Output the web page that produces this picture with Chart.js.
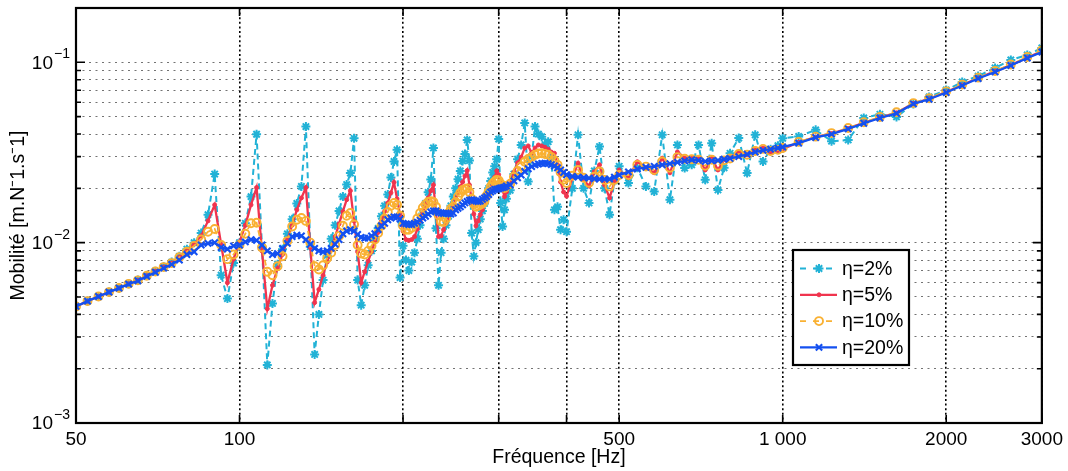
<!DOCTYPE html>
<html>
<head>
<meta charset="utf-8">
<title>Mobilité</title>
<script src="https://cdn.jsdelivr.net/npm/chart.js@4.4.1/dist/chart.umd.min.js"></script>
<style>
  html, body { margin: 0; padding: 0; background: #fff; }
  #wrap { width: 1068px; height: 471px; }
</style>
</head>
<body>
<div id="wrap"><canvas id="mobChart" width="1068" height="471"></canvas></div>
<script>
// frequency points (Hz)
const freqHz = [
  50, 52.5, 55, 57.5, 60, 62.5, 65, 67.5, 70, 72.5, 75,
  77.5, 80, 82.5, 85, 87.5, 90, 92.5, 95, 97.5, 100,
  102.5, 105, 107.5, 110, 112.5, 115, 117.5, 120, 122.5, 125,
  127.5, 130, 132.5, 135, 137.5, 140, 142.5, 145,
  147.5, 150, 152.5, 155, 157.5, 160, 162.5, 165, 167.5, 170, 172.5, 175, 177.5, 180, 182.5, 185, 187.5, 190, 192.5, 195, 197.5, 200,
  202.5, 205, 207.5, 210, 212.5, 215, 217.5, 220, 222.5, 225, 227.5, 230, 232.5, 235, 237.5, 240,
  242.5, 245, 247.5, 250, 252.5, 255, 257.5, 260, 262.5, 265, 267.5, 270, 272.5, 275, 277.5, 280, 282.5, 285, 287.5, 290, 292.5, 295, 297.5, 300, 302.5, 305, 307.5, 310,
  315, 320, 325, 330, 335, 340, 345, 350, 355, 360, 365, 370, 375, 380, 385, 390, 395, 400,
  410, 420, 430, 440, 450, 460, 470, 480, 490, 500,
  520, 540, 560, 580, 600, 620, 640, 660, 680, 700, 720, 740, 760, 780, 800,
  830, 860, 890, 920, 950, 980, 1000,
  1070, 1150, 1230, 1320, 1410, 1510, 1620, 1740, 1860, 2000, 2140, 2290, 2460, 2630, 2820, 3000
];

// mobility, eta = 2%
const eta2 = [
  0.00443, 0.00474, 0.00503, 0.00532, 0.00560, 0.00591, 0.00620, 0.00657, 0.00695, 0.00736, 0.00780,
  0.0084, 0.0092, 0.0100, 0.0113, 0.0143, 0.0240, 0.0066, 0.0049, 0.0077, 0.0100,
  0.0128, 0.0180, 0.0399, 0.0095, 0.0021, 0.0046, 0.0076, 0.0092, 0.0112, 0.0135,
  0.0165, 0.0205, 0.0440, 0.0095, 0.0024, 0.0040, 0.0062, 0.0085,
  0.0105, 0.0125, 0.0150, 0.0180, 0.0210, 0.0243, 0.0379, 0.0062, 0.0045, 0.0058, 0.0075, 0.0090, 0.0105, 0.0120, 0.0140, 0.0160, 0.0185, 0.0230, 0.0282, 0.0327, 0.0064, 0.0096,
  0.0080, 0.0070, 0.0078, 0.0088, 0.0105, 0.0125, 0.0145, 0.0165, 0.0190, 0.0224, 0.0335, 0.0120, 0.0058, 0.0088, 0.0105, 0.0125,
  0.0140, 0.0160, 0.0180, 0.0200, 0.0225, 0.0250, 0.0284, 0.0310, 0.0371, 0.0285, 0.0113, 0.0084, 0.0100, 0.0118, 0.0135, 0.0150, 0.0165, 0.0182, 0.0200, 0.0220, 0.0245, 0.0265, 0.0290, 0.0375, 0.0166, 0.0123, 0.0152, 0.0175,
  0.0195, 0.0240, 0.0290, 0.0348, 0.0461, 0.0218, 0.0300, 0.0440, 0.0400, 0.0387, 0.0350, 0.0363, 0.0300, 0.0152, 0.0158, 0.0118, 0.0134, 0.0115,
  0.0200, 0.0396, 0.0200, 0.0166, 0.0250, 0.0341, 0.0200, 0.0143, 0.0220, 0.0265,
  0.0214, 0.0260, 0.0205, 0.0192, 0.0396, 0.0173, 0.0348, 0.0259, 0.0270, 0.0348, 0.0223, 0.0356, 0.0196, 0.0260, 0.0313,
  0.0380, 0.0243, 0.0396, 0.0282, 0.0330, 0.0345, 0.0379,
  0.0388, 0.0422, 0.0365, 0.0371, 0.0491, 0.0515, 0.0498, 0.0588, 0.0643, 0.0702, 0.0778, 0.0839, 0.0930, 0.1030, 0.1098, 0.1200
];

// eta = 5%
const eta5 = [
  0.00443, 0.00474, 0.00503, 0.00532, 0.00560, 0.00591, 0.00618, 0.00655, 0.00692, 0.00732, 0.00770,
  0.0083, 0.0090, 0.0098, 0.0109, 0.0132, 0.0162, 0.0098, 0.0060, 0.0081, 0.0101,
  0.0125, 0.0162, 0.0202, 0.0090, 0.0043, 0.0058, 0.0072, 0.0086, 0.0104, 0.0125,
  0.0152, 0.0177, 0.0202, 0.0094, 0.00465, 0.0055, 0.0066, 0.0078,
  0.0091, 0.0108, 0.0127, 0.0149, 0.0173, 0.0194, 0.0132, 0.0089, 0.0060, 0.0069, 0.0079, 0.0089, 0.0101, 0.0114, 0.0131, 0.0149, 0.0166, 0.0189, 0.0216, 0.0175, 0.0143, 0.0116,
  0.0104, 0.0103, 0.0104, 0.0108, 0.0119, 0.0133, 0.0146, 0.0162, 0.0177, 0.0194, 0.0209, 0.0146, 0.0108, 0.0109, 0.0118, 0.0128,
  0.0138, 0.0150, 0.0162, 0.0175, 0.0189, 0.0204, 0.0217, 0.0234, 0.0251, 0.0209, 0.0173, 0.0144, 0.0124, 0.0132, 0.0143, 0.0152, 0.0164, 0.0175, 0.0187, 0.0201, 0.0217, 0.0231, 0.0250, 0.0238, 0.0214, 0.0196, 0.0180, 0.0191,
  0.0212, 0.0246, 0.0277, 0.0298, 0.0335, 0.0344, 0.0315, 0.0335, 0.0348, 0.0344, 0.0338, 0.0330, 0.0318, 0.0313, 0.0270, 0.0217, 0.0191, 0.0181,
  0.0228, 0.0276, 0.0223, 0.0206, 0.0247, 0.0270, 0.0209, 0.0177, 0.0217, 0.0253,
  0.0229, 0.0281, 0.0260, 0.0244, 0.0294, 0.0244, 0.0318, 0.0295, 0.0295, 0.0295, 0.0253, 0.0295, 0.0253, 0.0288, 0.0295,
  0.0318, 0.0307, 0.0327, 0.0335, 0.0315, 0.0322, 0.0331,
  0.0360, 0.0385, 0.0403, 0.0430, 0.0462, 0.0494, 0.0525, 0.0590, 0.0628, 0.0684, 0.0748, 0.0818, 0.0890, 0.0965, 0.1062, 0.1150
];

// eta = 10%
const eta10 = [
  0.00443, 0.00474, 0.00503, 0.00532, 0.00560, 0.00591, 0.00618, 0.00655, 0.00692, 0.00732, 0.00770,
  0.0083, 0.0089, 0.0096, 0.0104, 0.0115, 0.0119, 0.0097, 0.0081, 0.0086, 0.0097,
  0.0112, 0.0128, 0.0129, 0.0094, 0.0069, 0.0066, 0.0074, 0.0084, 0.0102, 0.0123,
  0.0134, 0.0137, 0.0132, 0.0100, 0.0074, 0.0071, 0.0075, 0.0082,
  0.0088, 0.0097, 0.0109, 0.0124, 0.0141, 0.0146, 0.0126, 0.0097, 0.0087, 0.0086, 0.0090, 0.0096, 0.0104, 0.0113, 0.0124, 0.0136, 0.0148, 0.0160, 0.0166, 0.0162, 0.0141, 0.0124,
  0.0118, 0.0118, 0.0121, 0.0127, 0.0136, 0.0146, 0.0156, 0.0163, 0.0168, 0.0170, 0.0168, 0.0158, 0.0142, 0.0131, 0.0130, 0.0136,
  0.0146, 0.0154, 0.0158, 0.0168, 0.0180, 0.0189, 0.0196, 0.0198, 0.0200, 0.0191, 0.0175, 0.0164, 0.0158, 0.0160, 0.0162, 0.0165, 0.0170, 0.0182, 0.0192, 0.0204, 0.0213, 0.0218, 0.0223, 0.0221, 0.0212, 0.0204, 0.0201, 0.0206,
  0.0212, 0.0232, 0.0250, 0.0265, 0.0281, 0.0291, 0.0298, 0.0307, 0.0312, 0.0313, 0.0310, 0.0307, 0.0298, 0.0285, 0.0270, 0.0246, 0.0223, 0.0214,
  0.0235, 0.0253, 0.0229, 0.0215, 0.0232, 0.0248, 0.0223, 0.0205, 0.0223, 0.0237,
  0.0237, 0.0270, 0.0264, 0.0253, 0.0282, 0.0260, 0.0298, 0.0292, 0.0290, 0.0288, 0.0267, 0.0288, 0.0267, 0.0286, 0.0293,
  0.0310, 0.0307, 0.0322, 0.0331, 0.0322, 0.0327, 0.0335,
  0.0362, 0.0387, 0.0405, 0.0432, 0.0465, 0.0497, 0.0528, 0.0594, 0.0632, 0.0690, 0.0752, 0.0822, 0.0895, 0.0972, 0.1070, 0.1165
];

// eta = 20%
const eta20 = [
  0.00443, 0.00474, 0.00503, 0.00532, 0.00560, 0.00589, 0.00615, 0.00650, 0.00685, 0.00722, 0.00758,
  0.0080, 0.0086, 0.0089, 0.0097, 0.0099, 0.0100, 0.0094, 0.0092, 0.0096, 0.0097,
  0.0101, 0.0104, 0.0103, 0.0097, 0.0090, 0.0086, 0.0087, 0.0093, 0.0099, 0.0108,
  0.0110, 0.0109, 0.0104, 0.0098, 0.0093, 0.0090, 0.0089, 0.0090,
  0.0093, 0.0098, 0.0104, 0.0112, 0.0116, 0.0118, 0.0116, 0.0111, 0.0107, 0.0106, 0.0106, 0.0109, 0.0112, 0.0118, 0.0124, 0.0128, 0.0134, 0.0137, 0.0139, 0.0139, 0.0135, 0.0128,
  0.0127, 0.0126, 0.0126, 0.0128, 0.0130, 0.0133, 0.0137, 0.0140, 0.0144, 0.0148, 0.0150, 0.0150, 0.0147, 0.0146, 0.0145, 0.0146,
  0.0145, 0.0144, 0.0146, 0.0152, 0.0155, 0.0158, 0.0162, 0.0166, 0.0169, 0.0172, 0.0173, 0.0172, 0.0170, 0.0169, 0.0170, 0.0174, 0.0177, 0.0180, 0.0185, 0.0191, 0.0194, 0.0197, 0.0198, 0.0199, 0.0201, 0.0202, 0.0203, 0.0206,
  0.0209, 0.0220, 0.0229, 0.0237, 0.0248, 0.0257, 0.0264, 0.0270, 0.0273, 0.0275, 0.0276, 0.0274, 0.0271, 0.0266, 0.0260, 0.0253, 0.0245, 0.0238,
  0.0233, 0.0231, 0.0229, 0.0228, 0.0226, 0.0225, 0.0225, 0.0225, 0.0231, 0.0237,
  0.0247, 0.0256, 0.0262, 0.0265, 0.0270, 0.0274, 0.0279, 0.0284, 0.0288, 0.0286, 0.0282, 0.0284, 0.0286, 0.0290, 0.0293,
  0.0300, 0.0309, 0.0318, 0.0325, 0.0330, 0.0335, 0.0339,
  0.0356, 0.0383, 0.0400, 0.0427, 0.0459, 0.0491, 0.0521, 0.0588, 0.0624, 0.0680, 0.0743, 0.0813, 0.0884, 0.0960, 0.1056, 0.1140
];

const seriesNames = ["η=2%", "η=5%", "η=10%", "η=20%"];

// axis ticks
const xTicks = [50, 100, 200, 300, 400, 500, 1000, 2000, 3000];
const xTickLabels = ["50", "100", "", "", "", "500", "1 000", "2000", "3000"];
const yTicks = [
  0.001, 0.002, 0.003, 0.004, 0.005, 0.006, 0.007, 0.008, 0.009,
  0.01, 0.02, 0.03, 0.04, 0.05, 0.06, 0.07, 0.08, 0.09,
  0.1, 0.2
];
const yDecades = [0.001, 0.01, 0.1];
const yDecadeExp = ["\u22123", "\u22122", "\u22121"];

const FONT = '"Liberation Sans", Arial, Helvetica, sans-serif';

const styles = [
  { color: "#22b2d6", dash: [6, 4], point: "star", radius: 4.5, pw: 2, fill: "#22b2d6", width: 2 },
  { color: "#f0344e", dash: [], point: "circle", radius: 2, pw: 1, fill: "#f0344e", width: 2.3 },
  { color: "#f9b133", dash: [6, 4], point: "circle", radius: 4, pw: 1.9, fill: "rgba(255,255,255,0)", width: 1.8 },
  { color: "#1450f0", dash: [], point: "crossRot", radius: 4.5, pw: 2.1, fill: "#1450f0", width: 2.3 }
];

const allSeries = [eta2, eta5, eta10, eta20];

const datasets = allSeries.map((vals, i) => ({
  label: seriesNames[i],
  data: freqHz.map((f, k) => ({ x: f, y: vals[k] })),
  borderColor: styles[i].color,
  borderWidth: styles[i].width,
  borderDash: styles[i].dash,
  pointStyle: styles[i].point,
  pointRadius: styles[i].radius,
  pointBorderWidth: styles[i].pw,
  pointBorderColor: styles[i].color,
  pointBackgroundColor: styles[i].fill,
  tension: 0,
  fill: false,
  order: 4 - i // later series drawn on top
}));

// frame, inward ticks, y labels with exponents, legend box
const decorations = {
  id: "decorations",
  afterDatasetsDraw(chart) {
    const { ctx, chartArea: a, scales: { x, y } } = chart;
    ctx.save();
    ctx.setLineDash([]);
    ctx.strokeStyle = "#000";
    ctx.lineWidth = 1.6;
    ctx.beginPath();
    yTicks.forEach(v => {
      const py = y.getPixelForValue(v);
      const len = yDecades.includes(v) ? 9 : 5;
      ctx.moveTo(a.left, py); ctx.lineTo(a.left + len, py);
      ctx.moveTo(a.right, py); ctx.lineTo(a.right - len, py);
    });
    xTicks.forEach(v => {
      const px = x.getPixelForValue(v);
      ctx.moveTo(px, a.bottom); ctx.lineTo(px, a.bottom - 8);
      ctx.moveTo(px, a.top); ctx.lineTo(px, a.top + 8);
    });
    ctx.stroke();

    ctx.lineWidth = 2.2;
    ctx.strokeRect(a.left, a.top, a.right - a.left, a.bottom - a.top);

    // y labels 10^n
    ctx.fillStyle = "#000";
    ctx.textBaseline = "middle";
    yDecades.forEach((v, i) => {
      const py = y.getPixelForValue(v);
      ctx.font = "19px " + FONT;
      ctx.textAlign = "right";
      ctx.fillText("10", 53, py + 1);
      ctx.font = "14px " + FONT;
      ctx.textAlign = "left";
      ctx.fillText(yDecadeExp[i], 54, py - 8);
    });

    // legend
    const bx = 793, by = 250, bw = 116, bh = 115;
    ctx.fillStyle = "#fff";
    ctx.fillRect(bx, by, bw, bh);
    ctx.lineWidth = 2.2;
    ctx.strokeStyle = "#000";
    ctx.strokeRect(bx, by, bw, bh);
    styles.forEach((s, i) => {
      const ry = 268.5 + i * 26.3;
      ctx.strokeStyle = s.color;
      ctx.lineWidth = s.width;
      ctx.setLineDash(s.dash.length ? [6, 7] : []);
      ctx.beginPath();
      ctx.moveTo(800, ry); ctx.lineTo(837, ry);
      ctx.stroke();
      ctx.setLineDash([]);
      ctx.lineWidth = s.pw;
      ctx.fillStyle = s.fill;
      Chart.helpers.drawPoint(ctx, { pointStyle: s.point, radius: s.radius, borderWidth: s.pw, rotation: 0 }, 819, ry);
      ctx.fillStyle = "#000";
      ctx.font = "19.5px " + FONT;
      ctx.textAlign = "left";
      ctx.textBaseline = "middle";
      ctx.fillText(seriesNames[i], 842, ry + 1);
    });
    ctx.restore();
  }
};

Chart.defaults.font.family = FONT;
Chart.defaults.color = "#000";

new Chart(document.getElementById("mobChart"), {
  type: "line",
  data: { datasets },
  plugins: [decorations],
  options: {
    responsive: false,
    devicePixelRatio: 1,
    animation: false,
    layout: { padding: { top: 8, right: 25, left: 0, bottom: 0 } },
    plugins: {
      legend: { display: false },
      tooltip: { enabled: false }
    },
    scales: {
      x: {
        type: "logarithmic",
        min: 50,
        max: 3000,
        afterBuildTicks: s => { s.ticks = xTicks.map(v => ({ value: v })); },
        afterFit: s => { s.height = 48; },
        ticks: {
          autoSkip: false,
          maxRotation: 0,
          padding: 5,
          font: { size: 19 },
          color: "#000",
          callback: (v, i) => xTickLabels[i]
        },
        grid: { color: "#000", lineWidth: 1.6, drawTicks: false },
        border: { display: false, dash: [2, 2.6] },
        title: { display: true, text: "Fréquence [Hz]", font: { size: 19.5 }, color: "#000", padding: { top: 0, bottom: 2 } }
      },
      y: {
        type: "logarithmic",
        min: 0.001,
        max: 0.2,
        afterBuildTicks: s => { s.ticks = yTicks.map(v => ({ value: v })); },
        afterFit: s => { s.width = 76; },
        ticks: { display: false },
        grid: { color: "rgba(0,0,0,0.55)", lineWidth: 1.1, drawTicks: false },
        border: { display: false, dash: [2, 4.5] },
        title: { display: true, text: "Mobilité [m.N⁻1.s⁻1]", font: { size: 19.5 }, color: "#000", padding: { top: 7, bottom: 0 } }
      }
    }
  }
});
</script>
</body>
</html>
